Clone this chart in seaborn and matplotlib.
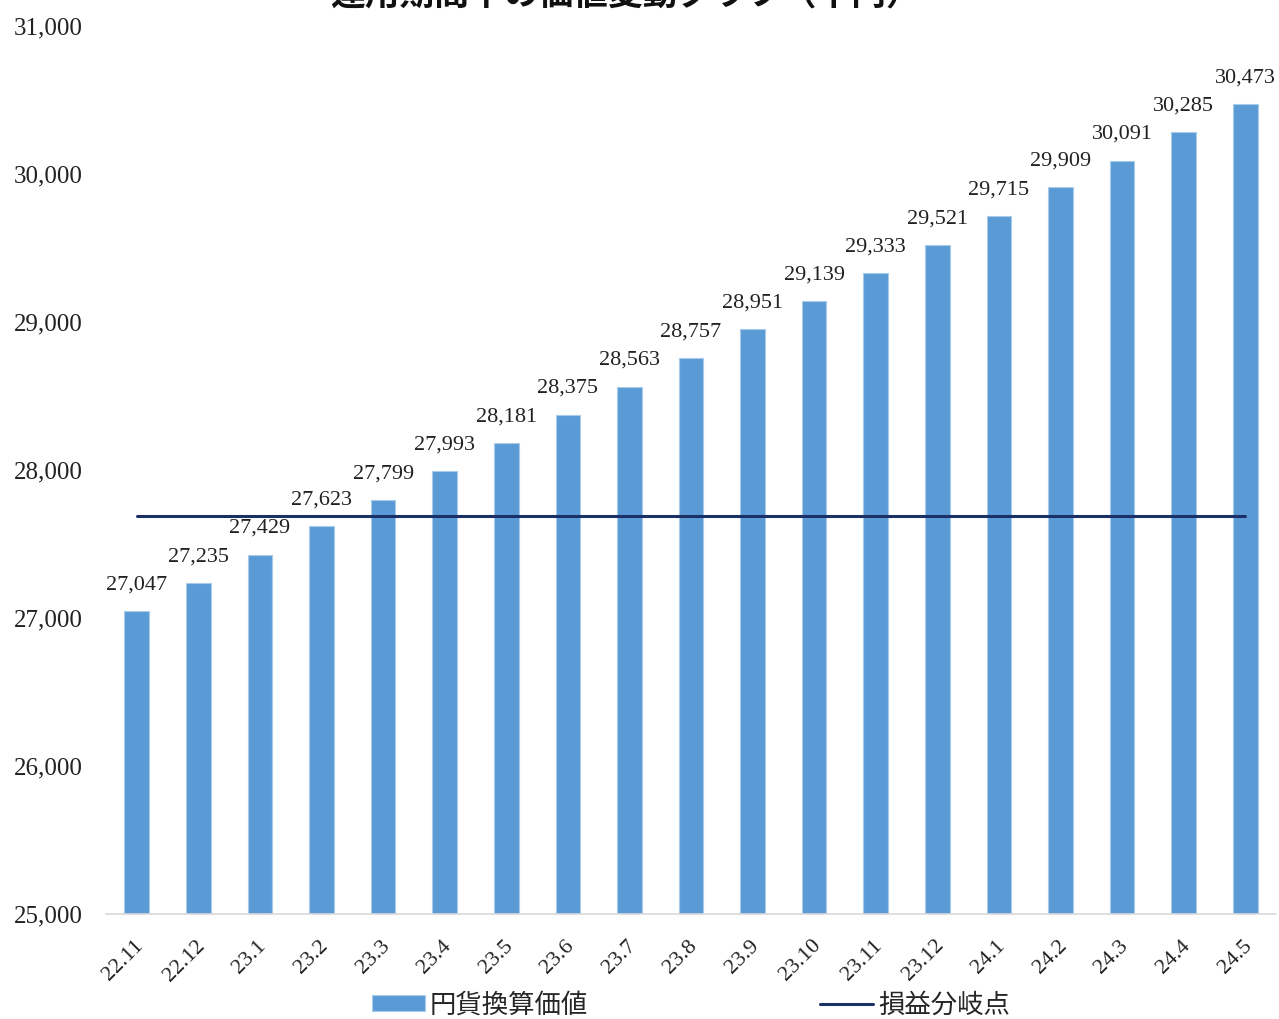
"""
Value change chart over the holding period (bars + breakeven line).
"""

import numpy as np
import matplotlib
matplotlib.use('Agg')
import matplotlib.pyplot as plt
import matplotlib.transforms as mtransforms
from matplotlib.ticker import FuncFormatter, MultipleLocator, FixedLocator
import seaborn as sns

# data
months = ['22.11', '22.12', '23.1', '23.2', '23.3', '23.4', '23.5', '23.6', '23.7',
          '23.8', '23.9', '23.10', '23.11', '23.12', '24.1', '24.2', '24.3', '24.4', '24.5']
yen_value = [27047, 27235, 27429, 27623, 27799, 27993, 28181, 28375, 28563, 28757,
             28951, 29139, 29333, 29521, 29715, 29909, 30091, 30285, 30473]
breakeven = 27690

title = '運用期間中の価値変動グラフ（千円）'
bar_label = '円貨換算価値'
line_label = '損益分岐点'

sns.set_style('white')
plt.rcParams['font.family'] = ['Liberation Serif', 'Noto Sans CJK JP', 'DejaVu Sans']

bar_color = '#5B9BD5'
line_color = '#1C3068'

fig = plt.figure(figsize=(12.79, 10.19), dpi=100)
ax = fig.add_axes([106 / 1279, 1 - 914 / 1019, (1276 - 106) / 1279, (914 - 26) / 1019])

n = len(months)
sns.barplot(x=months, y=yen_value, color=bar_color, width=0.4, saturation=1,
            edgecolor='#A9CBEA', linewidth=0.8, ax=ax, label=bar_label)
sns.lineplot(x=np.arange(n), y=np.full(n, breakeven), color=line_color,
             linewidth=2.2, ax=ax, label=line_label)

# data labels
for i, v in enumerate(yen_value):
    ax.annotate(f'{v:,}', (i, v), xytext=(0, 12), textcoords='offset points',
                ha='center', va='bottom', fontsize=16, color='#222222')

ax.set_ylim(25000, 31000)
ax.set_xlim(-0.5, n - 0.5)
ax.yaxis.set_major_locator(MultipleLocator(1000))
ax.yaxis.set_major_formatter(FuncFormatter(lambda v, p: f'{int(v):,}'))
ax.tick_params(axis='y', length=0, pad=17, labelsize=18, labelcolor='#222222')

ax.set_xticks(np.arange(n))
ax.set_xticklabels(months, rotation=45, ha='right', rotation_mode='anchor')
ax.tick_params(axis='x', which='major', length=0, pad=16, labelsize=16, labelcolor='#222222')
shift = mtransforms.ScaledTranslation(-3 / 100, 0, fig.dpi_scale_trans)
for lab in ax.get_xticklabels():
    lab.set_transform(lab.get_transform() + shift)
ax.xaxis.set_minor_locator(FixedLocator(np.arange(n + 1) - 0.5))
ax.tick_params(axis='x', which='minor', length=8, width=1, color='#D9D9D9')

for s in ['left', 'top', 'right']:
    ax.spines[s].set_visible(False)
ax.spines['bottom'].set_color('#D9D9D9')
ax.spines['bottom'].set_linewidth(1.2)
ax.set_xlabel('')
ax.set_ylabel('')

# legend at the bottom, bars first
ax.get_legend().remove()
handles, labels = ax.get_legend_handles_labels()
order = [labels.index(bar_label), labels.index(line_label)]
fig.legend([handles[i] for i in order], [labels[i] for i in order], loc='center',
           bbox_to_anchor=(691 / 1279, 1 - 1005 / 1019),
           ncol=2, frameon=False, fontsize=19, handlelength=2.0, handleheight=0.55,
           handletextpad=0.2, columnspacing=8.8)

fig.text(625 / 1279, 1 - 13 / 1019, title, ha='center', va='bottom',
         fontsize=25, fontweight='bold', color='#111111')

plt.savefig('out.png', dpi=100)
plt.close()
